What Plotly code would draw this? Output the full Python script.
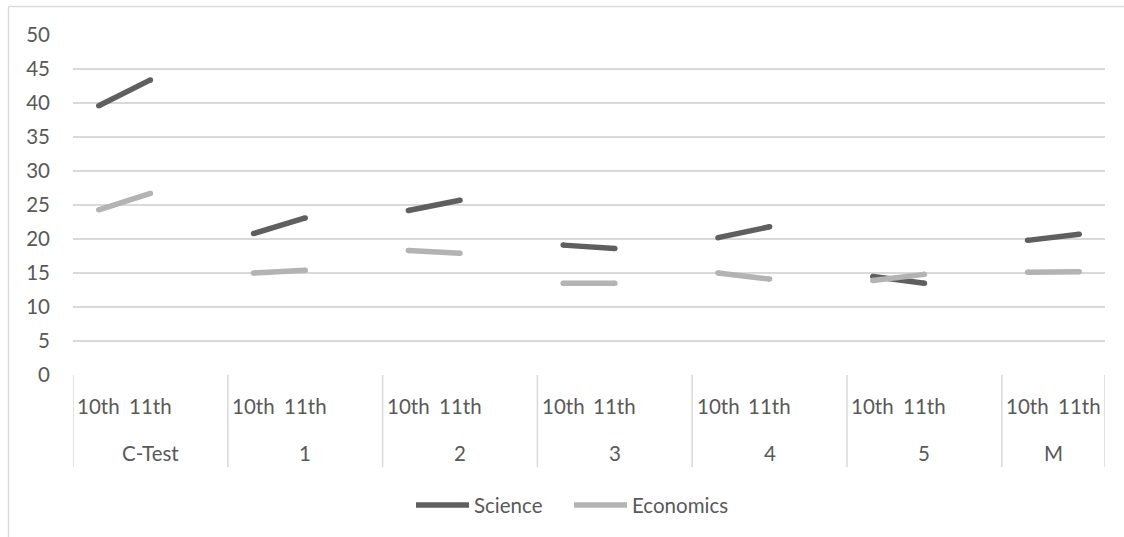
import plotly.graph_objects as go

# Test sections and school years
sections = ["C-Test", "1", "2", "3", "4", "5", "M"]
years = ["10th", "11th"]

# Mean scores per section: [10th, 11th]
science = [[39.6, 43.4], [20.8, 23.1], [24.2, 25.7], [19.1, 18.6],
           [20.2, 21.8], [14.5, 13.5], [19.8, 20.7]]
economics = [[24.3, 26.7], [15.0, 15.4], [18.3, 17.9], [13.5, 13.5],
             [15.0, 14.1], [13.9, 14.8], [15.1, 15.2]]

y_ticks = list(range(0, 51, 5))

SCI_COLOR = "#5f5f5f"
ECO_COLOR = "#b3b3b3"
GRID = "#d9d9d9"
TEXT = "#595959"
FONT = "Lato"
FSIZE = 20.5

# Each section occupies two category slots plus a blank spacer slot (except the last)
x_pos = []
x_labels = []
group_bounds = [-0.5]
for gi, sec in enumerate(sections):
    base = gi * 3
    for yi, yr in enumerate(years):
        x_pos.append(base + yi)
        x_labels.append(yr)
    group_bounds.append(base + 2.5 if gi < len(sections) - 1 else base + 1.5)
n_slots = group_bounds[-1]


def series_xy(values):
    xs, ys = [], []
    for gi, pair in enumerate(values):
        for yi, v in enumerate(pair):
            xs.append(gi * 3 + yi)
            ys.append(v)
        xs.append(None)
        ys.append(None)
    return xs, ys


fig = go.Figure()
for name, vals, color in [("Science", science, SCI_COLOR), ("Economics", economics, ECO_COLOR)]:
    xs, ys = series_xy(vals)
    fig.add_trace(go.Scatter(
        x=xs, y=ys, name=name, mode="lines+markers",
        line=dict(color=color, width=5.5),
        marker=dict(color=color, size=5.5, line=dict(width=0)),
        connectgaps=False, showlegend=False, hoverinfo="skip",
    ))

# Plot-area geometry (pixels) used to place axis decorations in paper units
W, H = 1124, 537
L, R, T, B = 73, 19, 35, 162
pw, ph = W - L - R, H - T - B


def py(px_y):
    return (H - B - px_y) / ph


def px(px_x):
    return (px_x - L) / pw


shapes = []
# Separators between section groups below the axis
for b in group_bounds:
    shapes.append(dict(type="line", xref="x", yref="paper", x0=b, x1=b,
                       y0=0, y1=py(467), line=dict(color=GRID, width=1.5)))
# Chart border (top and left edges)
shapes.append(dict(type="line", xref="paper", yref="paper",
                   x0=px(8.5), x1=px(1124), y0=py(6.5), y1=py(6.5),
                   line=dict(color=GRID, width=1.3), layer="below"))
shapes.append(dict(type="line", xref="paper", yref="paper",
                   x0=px(8.5), x1=px(8.5), y0=py(6.5), y1=py(537),
                   line=dict(color=GRID, width=1.3), layer="below"))

annotations = []
for x, lab in zip(x_pos, x_labels):
    annotations.append(dict(x=x, y=py(406), xref="x", yref="paper", text=lab,
                            showarrow=False, font=dict(family=FONT, size=FSIZE, color=TEXT),
                            xanchor="center", yanchor="middle"))
for gi, sec in enumerate(sections):
    cx = (group_bounds[gi] + group_bounds[gi + 1]) / 2
    annotations.append(dict(x=cx, y=py(453), xref="x", yref="paper", text=sec,
                            showarrow=False, font=dict(family=FONT, size=FSIZE, color=TEXT),
                            xanchor="center", yanchor="middle"))

# Legend drawn as line swatches with labels
legend_y = py(505)
for name, color, x0, x1, tx in [("Science", SCI_COLOR, 416, 469, 472),
                                 ("Economics", ECO_COLOR, 574, 627, 630)]:
    shapes.append(dict(type="line", xref="paper", yref="paper",
                       x0=px(x0), x1=px(x1), y0=legend_y, y1=legend_y,
                       line=dict(color=color, width=5.5)))
    annotations.append(dict(x=px(tx), y=legend_y, xref="paper", yref="paper", text=name,
                            showarrow=False, font=dict(family=FONT, size=FSIZE, color=TEXT),
                            xanchor="left", yanchor="middle"))

fig.update_layout(
    width=W, height=H,
    margin=dict(l=L, r=R, t=T, b=B, pad=0),
    paper_bgcolor="white", plot_bgcolor="white",
    shapes=shapes, annotations=annotations,
    xaxis=dict(range=[-0.5, n_slots], showgrid=False, zeroline=False,
               showticklabels=False, showline=False, fixedrange=True),
    yaxis=dict(range=[0, 50], tickvals=y_ticks, ticktext=[str(v) for v in y_ticks],
               showgrid=True, gridcolor=GRID, gridwidth=1.5, zeroline=False,
               showline=False, ticks="", ticklabelstandoff=22,
               tickfont=dict(family=FONT, size=FSIZE, color=TEXT), fixedrange=True),
    showlegend=False,
)

fig.write_html("out.html")
